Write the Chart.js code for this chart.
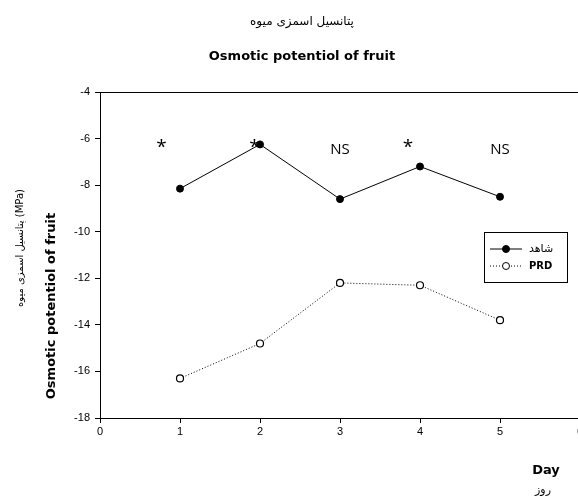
<!DOCTYPE html>
<html>
<head>
<meta charset="utf-8">
<script src="https://cdn.jsdelivr.net/npm/chart.js@4"></script>
<style>
  html, body { margin: 0; padding: 0; background: #fff; overflow: hidden; }
  #wrap { width: 600px; height: 499px; }
</style>
</head>
<body>
<div id="wrap"><canvas id="fruitChart" width="600" height="499"></canvas></div>
<script>
// داده‌ها
const days = [1, 2, 3, 4, 5];
const controlValues = [-8.15, -6.25, -8.6, -7.2, -8.5];
const prdValues = [-16.3, -14.8, -12.2, -12.3, -13.8];
const seriesNames = ['شاهد', 'PRD'];
const signifLabels = ['*', '*', 'NS', '*', 'NS'];
const signifX = [0.77, 1.93, 3, 3.85, 5];
const signifY = [-6.2, -6.2, -6.5, -6.2, -6.5];
const xTicks = [0, 1, 2, 3, 4, 5, 6];
const yTicks = [-4, -6, -8, -10, -12, -14, -16, -18];

const ctx = document.getElementById('fruitChart').getContext('2d');

// titles, box, legend and * / NS labels
const decorPlugin = {
    id: 'decor',
    afterDraw(chart) {
        const c = chart.ctx;
        const a = chart.chartArea;
        const xs = chart.scales.x, ys = chart.scales.y;
        c.save();
        c.strokeStyle = '#000';
        c.lineWidth = 1;
        c.strokeRect(Math.round(a.left) + 0.5, Math.round(a.top) + 0.5, a.right - a.left, a.bottom - a.top);

        c.fillStyle = '#000';
        c.textAlign = 'center';
        c.textBaseline = 'middle';
        c.font = '12px "DejaVu Sans"';
        c.fillText('پتانسیل اسمزی میوه', 302, 22);
        c.font = 'bold 13px "DejaVu Sans"';
        c.fillText('Osmotic potentiol of fruit', 302, 57);

        // y axis titles
        c.save();
        c.translate(52, 306);
        c.rotate(-Math.PI / 2);
        c.font = 'bold 13px "DejaVu Sans"';
        c.fillText('Osmotic potentiol of fruit', 0, 0);
        c.restore();
        c.save();
        c.translate(20, 248);
        c.rotate(-Math.PI / 2);
        c.font = '10px "DejaVu Sans"';
        c.fillText('پتانسیل اسمزی میوه (MPa)', 0, 0);
        c.restore();

        // x axis titles
        c.font = 'bold 13px "DejaVu Sans"';
        c.fillText('Day', 546, 471);
        c.font = '11px "DejaVu Sans"';
        c.fillText('روز', 543, 490);

        // significance labels
        signifLabels.forEach((t, i) => {
            c.font = t === '*' ? '19px "Open Sans"' : '15px "Open Sans"';
            c.fillText(t, xs.getPixelForValue(signifX[i]), ys.getPixelForValue(signifY[i]) + (t === '*' ? 4 : 0));
        });

        // legend
        c.strokeRect(484.5, 232.5, 83, 50);
        chart.data.datasets.forEach((ds, i) => {
            const y = 249 + i * 17;
            c.beginPath();
            c.setLineDash(ds.borderDash || []);
            c.moveTo(490, y);
            c.lineTo(522, y);
            c.stroke();
            c.setLineDash([]);
            c.beginPath();
            c.arc(506, y, 3.5, 0, Math.PI * 2);
            c.fillStyle = ds.pointBackgroundColor;
            c.fill();
            c.stroke();
            c.fillStyle = '#000';
            c.textAlign = 'left';
            c.font = i === 0 ? '11px "DejaVu Sans"' : 'bold 10px "DejaVu Sans"';
            c.fillText(ds.label, 529, y);
        });
        c.restore();
    }
};

new Chart(ctx, {
    type: 'line',
    data: {
        datasets: [
            {
                label: seriesNames[0],
                data: days.map((d, i) => ({ x: d, y: controlValues[i] })),
                borderColor: '#000',
                borderWidth: 1,
                pointRadius: 3.5,
                pointBackgroundColor: '#000',
                pointBorderColor: '#000',
                tension: 0
            },
            {
                label: seriesNames[1],
                data: days.map((d, i) => ({ x: d, y: prdValues[i] })),
                borderColor: '#000',
                borderWidth: 1,
                borderDash: [1, 2],
                pointRadius: 3.5,
                pointBackgroundColor: '#fff',
                pointBorderColor: '#000',
                pointBorderWidth: 1.2,
                tension: 0
            }
        ]
    },
    options: {
        responsive: false,
        animation: false,
        layout: { padding: { left: 0, top: 92, right: 20, bottom: 0 } },
        plugins: { legend: { display: false }, title: { display: false }, tooltip: { enabled: false } },
        scales: {
            x: {
                type: 'linear',
                min: 0, max: 6,
                afterBuildTicks: s => { s.ticks = xTicks.map(v => ({ value: v })); },
                afterFit: s => { s.height = 81; },
                grid: { drawOnChartArea: false, color: '#000', tickLength: 5 },
                border: { color: '#000' },
                ticks: { color: '#000', font: { family: 'Liberation Sans', size: 11 }, padding: 2 }
            },
            y: {
                type: 'linear',
                min: -18, max: -4,
                afterBuildTicks: s => { s.ticks = yTicks.map(v => ({ value: v })); },
                afterFit: s => { s.width = 100; },
                grid: { drawOnChartArea: false, color: '#000', tickLength: 5 },
                border: { color: '#000' },
                ticks: { color: '#000', font: { family: 'Liberation Sans', size: 11 }, padding: 5 }
            }
        }
    },
    plugins: [decorPlugin]
});
</script>
</body>
</html>
